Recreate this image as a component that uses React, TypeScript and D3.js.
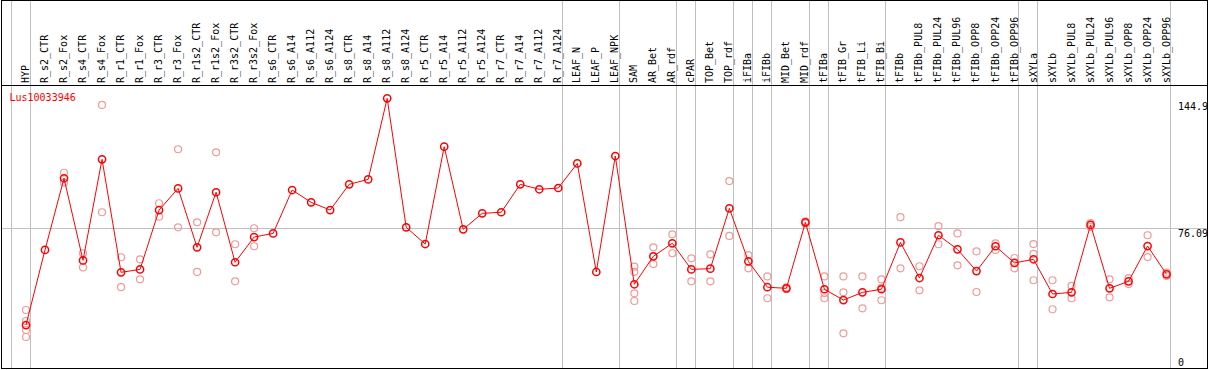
import React from "react";
import * as d3 from "d3";

const categories = [
  "HYP","R_s2_CTR","R_s2_Fox","R_s4_CTR","R_s4_Fox","R_r1_CTR","R_r1_Fox","R_r3_CTR","R_r3_Fox",
  "R_r1s2_CTR","R_r1s2_Fox","R_r3s2_CTR","R_r3s2_Fox","R_s6_CTR","R_s6_A14","R_s6_A112","R_s6_A124",
  "R_s8_CTR","R_s8_A14","R_s8_A112","R_s8_A124","R_r5_CTR","R_r5_A14","R_r5_A112","R_r5_A124",
  "R_r7_CTR","R_r7_A14","R_r7_A112","R_r7_A124","LEAF_N","LEAF_P","LEAF_NPK","SAM","AR_Bet","AR_rdf",
  "cPAR","TOP_Bet","TOP_rdf","iFIBa","iFIBb","MID_Bet","MID_rdf","tFIBa","tFIB_Gr","tFIB_Li","tFIB_Bi",
  "tFIBb","tFIBb_PUL8","tFIBb_PUL24","tFIBb_PUL96","tFIBb_OPP8","tFIBb_OPP24","tFIBb_OPP96",
  "sXYLa","sXYLb","sXYLb_PUL8","sXYLb_PUL24","sXYLb_PUL96","sXYLb_OPP8","sXYLb_OPP24","sXYLb_OPP96",
];

const means = [
  23.1, 64.0, 103.0, 58.3, 113.3, 51.8, 53.4, 85.7, 97.5,
  65.4, 95.4, 57.3, 71.0, 73.0, 96.6, 89.9, 85.7,
  99.7, 102.4, 146.5, 76.3, 67.2, 120.2, 75.2, 83.9,
  84.5, 99.7, 97.0, 97.7, 111.1, 52.0, 115.1, 45.3, 60.5, 67.6,
  53.4, 53.8, 86.6, 57.8, 43.7, 43.1, 79.0, 42.6, 36.7, 40.9, 42.6,
  68.1, 48.7, 72.0, 64.3, 52.5, 66.0, 56.9,
  58.9, 40.0, 40.9, 77.6, 43.1, 46.9, 66.1, 50.7,
];

const replicates: number[][] = [
  [31.3, 25.3, 20.4, 16.6], [], [106.0, 100.6], [62.2, 54.5], [142.9, 84.5], [60.0, 43.7], [58.9, 48.0], [89.4, 82.1], [118.8, 76.3],
  [79.0, 52.0], [117.1, 73.6], [67.1, 46.9], [75.8, 66.0], [], [], [], [],
  [], [], [], [], [], [], [], [],
  [], [], [], [], [], [], [], [54.9, 52.1, 40.4, 36.2], [65.4, 56.3], [72.5, 62.2],
  [59.4, 46.9], [61.6, 46.9], [101.5, 71.6], [61.2, 54.0], [49.6, 37.7], [43.6, 42.6], [79.6, 78.4], [49.6, 40.5, 37.7], [49.6, 40.9, 18.6], [49.6, 32.2], [48.0, 43.3, 36.6],
  [81.8, 54.0], [55.1, 42.0], [76.9, 67.1], [73.0, 55.6], [63.2, 41.1], [67.6, 64.0], [59.6, 54.0],
  [67.2, 61.8, 47.5], [47.5, 31.7], [44.4, 37.7], [78.6, 76.5], [48.0, 38.2], [48.7, 45.4], [72.0, 60.1], [51.6, 49.8],
];

// first category of each group (vertical separators), plus the end
const groupStarts = ["HYP", "R_s2_CTR", "LEAF_N", "SAM", "cPAR", "TOP_Bet", "iFIBa", "iFIBb", "MID_Bet", "tFIBa", "tFIB_Gr", "tFIBb", "sXYLa", "sXYLb"];

const yTicks = [0, 76.09, 144.9];
const geneName = "Lus10033946";

const W = 1209;
const H = 370;
const FONT = "'DejaVu Sans Mono', monospace";

export default function App() {
  const x = d3.scaleBand<string>().domain(categories).range([10.7, 1170.3]).padding(0);
  const y = d3.scaleLinear().domain([0, 144.9]).range([367.5, 101.3]);
  const px = (c: string) => (x(c) as number) + 15.3;

  const lineGen = d3
    .line<number>()
    .x((_, i) => px(categories[i]))
    .y((d) => y(d));

  const sepXs = groupStarts.map((c) => Math.round(x(c) as number) + 0.5).concat([Math.round(x.range()[1]) + 0.5]);
  const gridY = Math.round(y(76.09)) + 0.5;

  return (
    <svg
      width={W}
      height={H}
      style={{ position: "absolute", left: 0, top: 0, background: "#fff" }}
    >
      <rect x={0} y={0} width={W} height={H} fill="#fff" />
      {/* horizontal grid line */}
      <line x1={1} x2={1207} y1={gridY} y2={gridY} stroke="#c0c0c0" strokeWidth={1} />
      {/* vertical group separators */}
      {sepXs.map((sx, i) => (
        <line key={i} x1={sx} x2={sx} y1={0} y2={369} stroke="#c0c0c0" strokeWidth={1} />
      ))}
      {/* header labels */}
      {categories.map((c) => {
        const bx = px(c) + 3;
        return (
          <text
            key={c}
            transform={`translate(${bx},83) rotate(-90)`}
            fontFamily={FONT}
            fontSize={10}
            fill="#000"
          >
            {c}
          </text>
        );
      })}
      {/* header separator */}
      <line x1={1} x2={1208} y1={85.5} y2={85.5} stroke="#000" strokeWidth={1} />
      {/* gene name */}
      <text x={9.5} y={100.7} fontFamily={FONT} fontSize={10} fill="#ff0000">
        {geneName}
      </text>
      {/* replicates */}
      {categories.map((c, i) =>
        replicates[i].map((v, j) => (
          <circle
            key={`${c}-${j}`}
            cx={px(c)}
            cy={y(v)}
            r={3.5}
            fill="none"
            stroke="#f09a9a"
            strokeWidth={1.2}
          />
        ))
      )}
      {/* mean line */}
      <path d={lineGen(means) || ""} fill="none" stroke="#ff0000" strokeWidth={1} />
      {/* mean points */}
      {categories.map((c, i) => (
        <circle key={c} cx={px(c)} cy={y(means[i])} r={3.6} fill="none" stroke="#ff0000" strokeWidth={1.5} />
      ))}
      {/* y tick labels */}
      {yTicks.map((t, i) => {
        const ty = i === 0 ? y(t) - 1.5 : y(t) + 9;
        return (
          <text key={t} x={1178} y={ty} fontFamily={FONT} fontSize={10} fill="#000">
            {String(t)}
          </text>
        );
      })}
      {/* border */}
      <rect x={1.5} y={0.5} width={1206} height={368} fill="none" stroke="#000" strokeWidth={1} />
    </svg>
  );
}
